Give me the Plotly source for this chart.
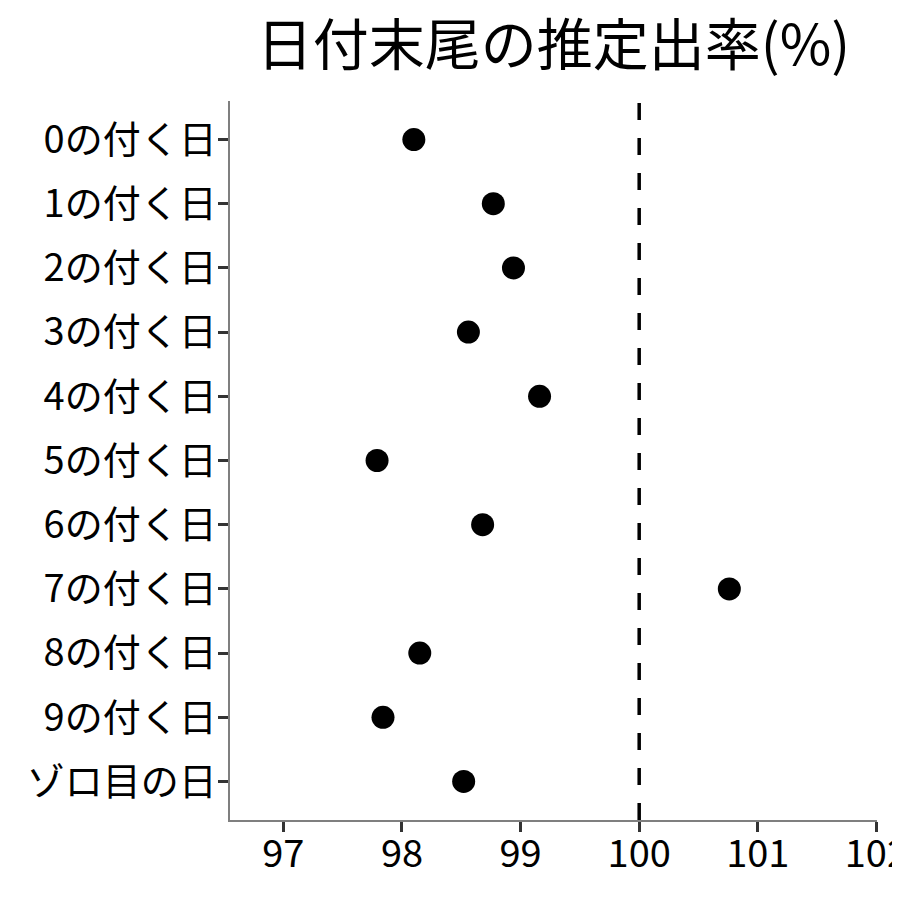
import plotly.graph_objects as go

categories = ["0の付く日", "1の付く日", "2の付く日", "3の付く日", "4の付く日",
              "5の付く日", "6の付く日", "7の付く日", "8の付く日", "9の付く日", "ゾロ目の日"]
values = [98.10, 98.77, 98.94, 98.56, 99.16, 97.79, 98.68, 100.76, 98.15, 97.84, 98.52]
x_ticks = [97, 98, 99, 100, 101, 102]
ref_value = 100
title = "日付末尾の推定出率(%)"

FONT = "Noto Sans CJK JP"

fig = go.Figure()
fig.add_trace(go.Scatter(
    x=values, y=categories, mode="markers",
    marker=dict(color="black", size=23),
    showlegend=False, cliponaxis=False,
))
fig.add_shape(type="line", xref="x", yref="paper", x0=ref_value, x1=ref_value, y0=0, y1=1,
              line=dict(color="black", width=3.5, dash="17px,18px"))

# page body adds ~8px offset; margins compensate
fig.update_layout(
    width=900, height=900,
    paper_bgcolor="white", plot_bgcolor="white",
    margin=dict(l=222, r=31, t=93, b=88, autoexpand=False),
    title=dict(text=title, x=(222 + 869) / 2 / 900, xanchor="center", y=1 - 37 / 900, yanchor="middle",
               font=dict(family=FONT, size=56, color="black"), automargin=False),
    font=dict(family=FONT, color="black"),
)
fig.update_xaxes(
    range=[96.55, 102.005], tickvals=x_ticks, ticktext=[str(t) for t in x_ticks],
    showgrid=False, zeroline=False, showline=True, linecolor="#7f7f7f", linewidth=1.5,
    ticks="outside", ticklen=10, tickwidth=2.5, tickcolor="#333333", automargin=False,
    tickfont=dict(family=FONT, size=38, color="black"), ticklabeloverflow="allow",
    ticklabelstandoff=-10,
)
fig.update_yaxes(
    categoryorder="array", categoryarray=categories, range=[10.6, -0.6],
    showgrid=False, zeroline=False, showline=True, linecolor="#7f7f7f", linewidth=1.5,
    ticks="outside", ticklen=10, tickwidth=2.5, tickcolor="#333333", automargin=False,
    tickfont=dict(family=FONT, size=38, color="black"), ticklabelstandoff=-6,
)
fig.write_html("out.html")
